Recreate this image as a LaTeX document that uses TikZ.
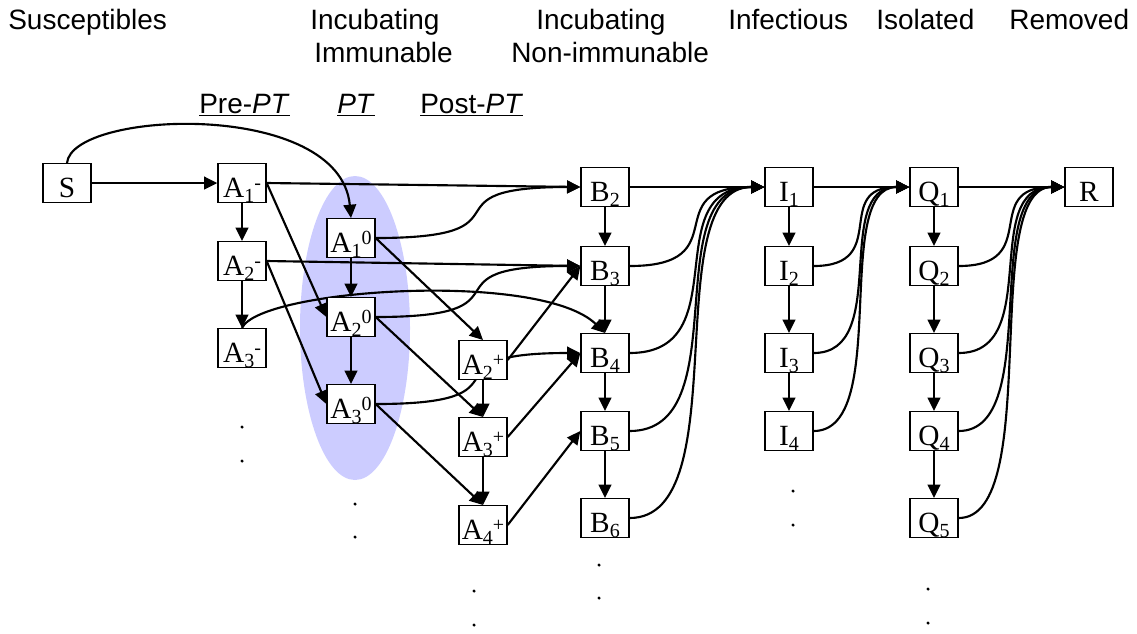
\documentclass[tikz,border=0pt]{standalone}
\usepackage{fontspec}
\setmainfont{Liberation Sans}
\newfontfamily\boxfont{Liberation Serif}
\usepackage{xcolor}
\usetikzlibrary{arrows.meta}
\pgfdeclarelayer{back}
\pgfdeclarelayer{mid}
\pgfsetlayers{back,mid,main}
\definecolor{ptblue}{RGB}{204,204,255}
\newcommand\lowidx[1]{\raisebox{-4pt}{\fontsize{15}{15}\selectfont #1}}
\newcommand\highidx[1]{\raisebox{6pt}{\fontsize{15}{15}\selectfont #1}}
\tikzset{
  box/.style={draw, line width=1pt, fill=white, minimum width=36pt, minimum height=29pt, inner sep=0pt, text height=21pt, text depth=0pt, font=\boxfont\fontsize{22}{24}\selectfont},
  conn/.style={line width=1.6pt, -{Triangle[length=10pt,width=9.5pt]}},
  head/.style={anchor=base west, inner sep=0pt, font=\fontsize{21}{25}\selectfont},
}

\begin{document}
\begin{tikzpicture}[x=0.75pt,y=0.75pt,yscale=-1,xscale=1]

\useasboundingbox (0,0) rectangle (1137,633);

\begin{pgfonlayer}{back}
\fill [ptblue] (355,328) ellipse [x radius=55, y radius=152];
\end{pgfonlayer}


\draw (8,29) node (hsus) [head] {Susceptibles};

\draw (310,29) node (hinca) [head] {Incubating};

\draw (314,62) node (himm) [head] {Immunable};

\draw (536,29) node (hincb) [head] {Incubating};

\draw (511,62) node (hnon) [head] {Non-immunable};

\draw (728,29) node (hinf) [head] {Infectious};

\draw (876,29) node (hiso) [head] {Isolated};

\draw (1009,29) node (hrem) [head] {Removed};

\draw (199,113) node (hpre) [head] {\underline{Pre-\textit{PT}}};

\draw (337,113) node (hpt) [head] {\underline{\textit{PT}}};

\draw (420,113) node (hpost) [head] {\underline{Post-\textit{PT}}};


\draw (67,183) node (s) [box] {S};

\draw (242,183) node (a1m) [box] {A\lowidx{1}\highidx{-}};

\draw (242,261) node (a2m) [box] {A\lowidx{2}\highidx{-}};

\draw (242,348) node (a3m) [box] {A\lowidx{3}\highidx{-}};

\draw (351,238) node (a1z) [box] {A\lowidx{1}\highidx{0}};

\draw (351,317) node (a2z) [box] {A\lowidx{2}\highidx{0}};

\draw (351,404) node (a3z) [box] {A\lowidx{3}\highidx{0}};

\draw (483,360) node (a2p) [box] {A\lowidx{2}\highidx{+}};

\draw (483,437) node (a3p) [box] {A\lowidx{3}\highidx{+}};

\draw (483,525) node (a4p) [box] {A\lowidx{4}\highidx{+}};

\draw (605,187) node (b2) [box] {B\lowidx{2}};

\draw (605,266) node (b3) [box] {B\lowidx{3}};

\draw (605,353) node (b4) [box] {B\lowidx{4}};

\draw (605,431) node (b5) [box] {B\lowidx{5}};

\draw (605,518) node (b6) [box] {B\lowidx{6}};

\draw (789,187) node (i1) [box] {I\lowidx{1}};

\draw (789,266) node (i2) [box] {I\lowidx{2}};

\draw (789,353) node (i3) [box] {I\lowidx{3}};

\draw (789,431) node (i4) [box] {I\lowidx{4}};

\draw (934,187) node (q1) [box] {Q\lowidx{1}};

\draw (934,266) node (q2) [box] {Q\lowidx{2}};

\draw (934,353) node (q3) [box] {Q\lowidx{3}};

\draw (934,431) node (q4) [box] {Q\lowidx{4}};

\draw (934,518) node (q5) [box] {Q\lowidx{5}};

\draw (1089,187) node (r) [box] {R};


\foreach \x/\y in {242/427, 242/461, 355/504, 355/537, 474/591, 474/625, 599/565, 599/598, 793/491, 793/525, 928/589, 928/623}
  \fill (\x,\y) circle [radius=1.3pt];


\begin{pgfonlayer}{mid}

\foreach \u/\v in {s/a1m, b2/i1, i1/q1, q1/r, a1m/a2m, a2m/a3m, a1z/a2z, a2z/a3z, a2p/a3p, a3p/a4p, b2/b3, b3/b4, b4/b5, b5/b6, i1/i2, i2/i3, i3/i4, q1/q2, q2/q3, q3/q4, q4/q5}
  \draw [conn] (\u) -- (\v);

\foreach \u/\v in {a1m/b2, a2m/b3, a1m/a2z, a2m/a3z, a2p/b3, a3p/b4, a4p/b5}
  \draw [conn] (\u.east) -- (\v.west);

\foreach \u/\v in {a1z/a2p, a2z/a3p, a3z/a4p}
  \draw [conn] (\u.east) -- (\v.north);

\foreach \u/\v/\k in {a1z/b2/165, a2z/b3/165, a3z/b4/165, b3/i1/109, b4/i1/109, b5/i1/109, b6/i1/109, i2/q1/78, i3/q1/78, i4/q1/78, q2/r/85, q3/r/85, q4/r/85, q5/r/85}
  \draw [conn] (\u.east) .. controls +(\k,0) and +(-\k,0) .. (\v.west);

\draw [conn] (s.north) .. controls +(5,-53) and +(-11,-119) .. (a1z.north);

\draw [conn] (a3m.north) .. controls +(18,-39) and +(-65,-63) .. (b4.north);

\end{pgfonlayer}

\end{tikzpicture}
\end{document}
